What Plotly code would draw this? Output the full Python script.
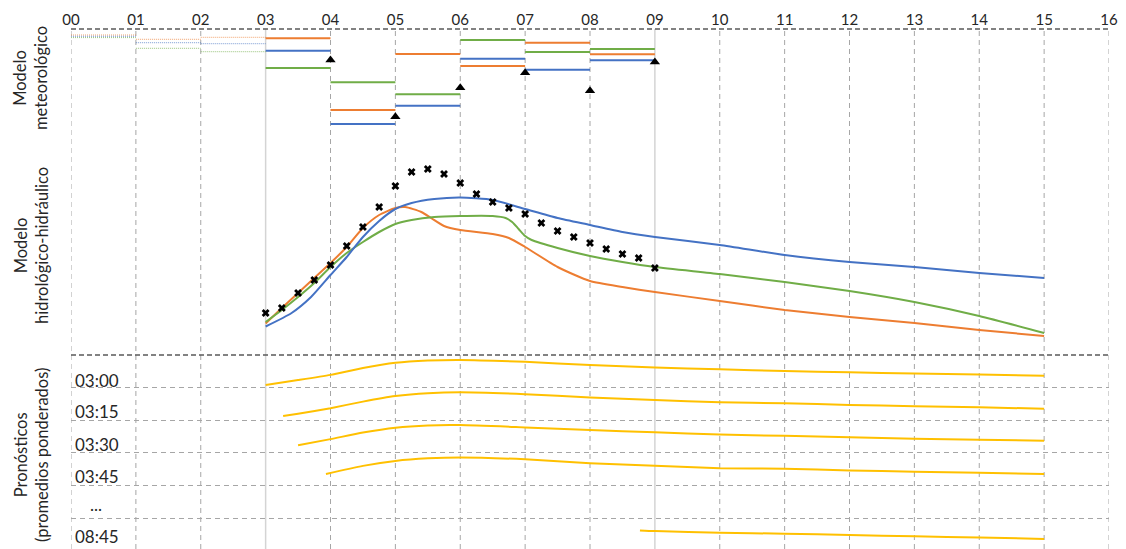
import plotly.graph_objects as go

# ---------------- data ----------------
hours = list(range(17))
hour_labels = [f"{h:02d}" for h in hours]
solid_hours = [3, 9]

ORANGE = "#ED7D31"
BLUE = "#4472C4"
GREEN = "#70AD47"
YELLOW = "#FFC000"

# Meteorological model: level of each hourly run (interval h -> h+1)
met_start = [0, 1, 2, 3, 4, 5, 6, 7, 8]
met_orange = [11.5, 11.07, 11.27, 11.17, 4.0, 9.6, 8.4, 10.73, 9.57]
met_blue = [11.37, 10.73, 10.63, 9.93, 2.6, 4.43, 9.13, 8.03, 8.97]
met_green = [11.24, 10.17, 9.83, 8.2, 6.77, 5.57, 11.0, 9.8, 10.1]
met_obs_t = [4, 5, 6, 7, 8, 9]
met_obs_v = [9.0, 3.33, 6.23, 7.73, 5.93, 8.8]

# Hydrologic-hydraulic model
obs_t = [3.0, 3.25, 3.5, 3.75, 4.0, 4.25, 4.5, 4.75, 5.0, 5.25, 5.5, 5.75, 6.0,
         6.25, 6.5, 6.75, 7.0, 7.25, 7.5, 7.75, 8.0, 8.25, 8.5, 8.75, 9.0]
obs_q = [42, 47, 62, 75, 90, 109, 128, 148, 169, 183, 186, 181, 172,
         161, 153, 147, 141, 132, 124, 118, 112, 106, 101, 97, 87]

or_t = [3, 3.25, 3.5, 3.75, 4, 4.25, 4.5, 4.75, 5, 5.15, 5.4, 5.55, 5.75, 6, 6.5,
        6.75, 7, 7.5, 8, 8.5, 9, 10, 11, 12, 13, 14, 15]
or_q = [31.5, 47, 62, 77, 92, 108, 127, 140, 147, 148, 143, 137, 129, 125, 121,
        117, 108, 88, 74, 68, 63, 54, 45, 38, 32, 25, 19]

bl_t = [3, 3.4, 3.7, 4, 4.25, 4.5, 4.75, 5, 5.25, 5.6, 6, 6.5, 7, 7.5, 8, 8.5, 9,
        10, 11, 12, 13, 14, 15]
bl_q = [28.5, 42, 58, 80, 98, 118, 134, 146, 152, 156, 157.5, 155, 146, 137, 130,
        123, 118, 110, 100, 93, 88, 82, 77]

gr_t = [3, 3.25, 3.5, 3.75, 4, 4.25, 4.5, 4.75, 5, 5.25, 5.6, 6, 6.5, 6.7, 6.8,
        6.9, 7.0, 7.1, 7.5, 8, 8.5, 9, 10, 11, 12, 13, 14, 15]
gr_q = [33, 45, 58, 72, 88, 102, 113, 123, 131, 135, 138, 139, 139, 137, 133,
        126, 119, 115, 107, 99, 93, 88, 81, 73, 64, 53, 39, 22]

# Weighted-average forecasts (normalised level inside each row)
fc_labels = ["03:00", "03:15", "03:30", "03:45", "...", "08:45"]
fc_rows = [0, 1, 2, 3, 5]
fc_t = [
    [3, 3.5, 4, 4.5, 5, 5.5, 6, 7, 8, 9, 10, 11, 12, 13, 14, 15],
    [3.27, 3.5, 4, 4.5, 5, 5.5, 6, 7, 8, 9, 10, 11, 12, 13, 14, 15],
    [3.5, 4, 4.5, 5, 5.5, 6, 7, 8, 9, 10, 11, 12, 13, 14, 15],
    [3.93, 4.5, 5, 5.5, 6, 7, 8, 9, 10, 11, 12, 13, 14, 15],
    [8.77, 9, 10, 11, 12, 13, 14, 15],
]
fc_v = [
    [0.08, 0.23, 0.39, 0.60, 0.76, 0.83, 0.85, 0.79, 0.69, 0.62, 0.56, 0.51, 0.47, 0.43, 0.40, 0.36],
    [0.13, 0.20, 0.37, 0.57, 0.74, 0.83, 0.86, 0.80, 0.70, 0.62, 0.55, 0.52, 0.47, 0.43, 0.40, 0.35],
    [0.23, 0.42, 0.62, 0.77, 0.84, 0.85, 0.78, 0.70, 0.63, 0.56, 0.52, 0.48, 0.43, 0.40, 0.37],
    [0.35, 0.60, 0.75, 0.83, 0.86, 0.80, 0.68, 0.60, 0.53, 0.51, 0.46, 0.42, 0.39, 0.35],
    [0.62, 0.60, 0.55, 0.52, 0.48, 0.44, 0.40, 0.36],
]
fc_label_y = [0.77, 0.74, 0.76, 0.73, 0.60, 0.58]  # label position inside each row

# ---------------- figure ----------------
fig = go.Figure()

def segs(starts, vals):
    xs, ys = [], []
    for s, v in zip(starts, vals):
        xs += [s, s + 1, None]
        ys += [v, v, None]
    return xs, ys

for vals, col in [(met_orange, ORANGE), (met_blue, BLUE), (met_green, GREEN)]:
    xs, ys = segs(met_start[:3], vals[:3])
    fig.add_trace(go.Scatter(x=xs, y=ys, mode="lines", xaxis="x", yaxis="y",
                             line=dict(color=col, width=1, dash="1px,1px"),
                             opacity=0.7, hoverinfo="skip"))
    xs, ys = segs(met_start[3:], vals[3:])
    fig.add_trace(go.Scatter(x=xs, y=ys, mode="lines", xaxis="x", yaxis="y",
                             line=dict(color=col, width=2), hoverinfo="skip"))

fig.add_trace(go.Scatter(x=met_obs_t, y=met_obs_v, mode="markers", xaxis="x", yaxis="y",
                         marker=dict(symbol="triangle-up", size=9, color="black")))

for t, q, col in [(or_t, or_q, ORANGE), (gr_t, gr_q, GREEN), (bl_t, bl_q, BLUE)]:
    fig.add_trace(go.Scatter(x=t, y=q, mode="lines", xaxis="x", yaxis="y2",
                             line=dict(color=col, width=2, shape="spline", smoothing=0.6)))

fig.add_trace(go.Scatter(x=obs_t, y=obs_q, mode="markers", xaxis="x", yaxis="y2",
                         marker=dict(symbol="x", size=7, color="black",
                                     line=dict(width=0))))

for row, t, v in zip(fc_rows, fc_t, fc_v):
    fig.add_trace(go.Scatter(x=t, y=[-(row + 1) + val for val in v], mode="lines",
                             xaxis="x", yaxis="y3",
                             line=dict(color=YELLOW, width=2, shape="spline", smoothing=0.6)))

FONT = "Lato"
TXT = "#262626"

annotations = []
for k, (lab, ly) in enumerate(zip(fc_labels, fc_label_y)):
    annotations.append(dict(x=0.05 if lab != "..." else 0.27, y=-k - ly, xref="x", yref="y3",
                            text=lab, showarrow=False, xanchor="left", yanchor="middle",
                            borderpad=0,
                            font=dict(family=FONT, size=17, color=TXT)))

for txt, yc in [("Modelo<br>meteorológico", 1 - 78 / 549),
                ("Modelo<br>hidrológico-hidráulico", 1 - 246 / 549),
                ("Pronósticos<br>(promedios ponderados)", 1 - 455 / 549)]:
    annotations.append(dict(x=31 / 1126, y=yc, xref="paper", yref="paper", text=txt,
                            textangle=-90, showarrow=False, xanchor="center",
                            yanchor="middle", font=dict(family=FONT, size=16.5, color=TXT)))

GRID = "#a6a6a6"
TOP = 1 - 29 / 549
shapes = []
for h in hours:
    if h in solid_hours:
        ln = dict(color="#d4d4d4", width=1.5)
    else:
        ln = dict(color=GRID, width=1, dash="5px,4px")
    shapes.append(dict(type="line", xref="x", yref="paper", x0=h, x1=h, y0=0, y1=TOP,
                       line=ln, layer="below"))
shapes += [
    dict(type="line", xref="paper", yref="paper", x0=71 / 1126, x1=1109 / 1126,
         y0=TOP, y1=TOP, line=dict(color="#595959", width=1.5, dash="5px,3px"),
         layer="below"),
    dict(type="line", xref="paper", yref="paper", x0=71 / 1126, x1=1109 / 1126,
         y0=1 - 355 / 549, y1=1 - 355 / 549,
         line=dict(color="#595959", width=1.5, dash="5px,3px"), layer="below"),
]

noax = dict(showgrid=False, zeroline=False, showline=False, showticklabels=False,
            ticks="", anchor="x", fixedrange=True, automargin=False)

fig.update_layout(
    width=1126, height=549, template="none",
    margin=dict(l=0, r=0, t=0, b=0, pad=0, autoexpand=False),
    paper_bgcolor="white", plot_bgcolor="rgba(0,0,0,0)",
    showlegend=False,
    xaxis=dict(domain=[71 / 1126, 1109 / 1126], range=[0, 16], side="top",
               anchor="y", tickmode="array", tickvals=hours, ticktext=hour_labels,
               tickfont=dict(family=FONT, size=15, color=TXT), ticks="",
               showgrid=False, zeroline=False, showline=False, automargin=False,
               fixedrange=True),
    yaxis=dict(domain=[1 - 150 / 549, TOP], range=[0, 12.1], **noax),
    yaxis2=dict(domain=[1 - 355 / 549, 1 - 150 / 549], range=[0, 205], **noax),
    yaxis3=dict(domain=[0, 1 - 355 / 549], range=[-5.95, 0], zeroline=False,
                showline=False, showticklabels=False, ticks="", anchor="x",
                tickmode="array", tickvals=[-1, -2, -3, -4, -5],
                showgrid=True, gridcolor=GRID, gridwidth=1, griddash="5px,4px",
                fixedrange=True, automargin=False),
    annotations=annotations,
    shapes=shapes,
)

fig.write_html("out.html", config={"displayModeBar": False},
               post_script="document.body.style.margin='0px';document.body.style.overflow='hidden';")
